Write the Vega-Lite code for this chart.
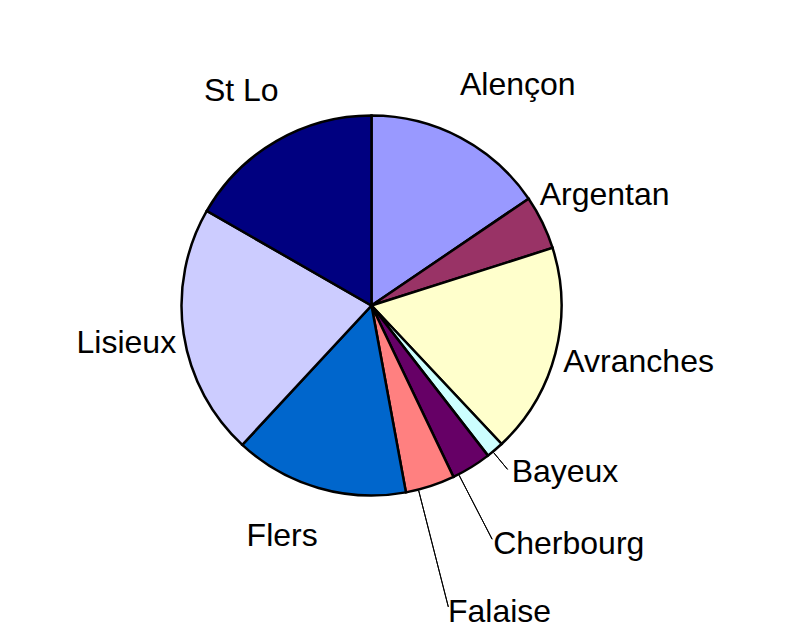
{
  "$schema": "https://vega.github.io/schema/vega-lite/v6.json",
  "width": 743,
  "height": 611,
  "autosize": {"type": "none"},
  "padding": {"left": 0, "top": 0, "right": 65, "bottom": 17},
  "background": "white",
  "config": {"view": {"stroke": null}, "text": {"font": "Liberation Sans", "fontSize": 32, "color": "black"}},
  "data": {
    "values": [
      {"name": "Alençon", "share": 15.5},
      {"name": "Argentan", "share": 4.6},
      {"name": "Avranches", "share": 17.9},
      {"name": "Bayeux", "share": 1.5},
      {"name": "Cherbourg", "share": 3.4},
      {"name": "Falaise", "share": 4.2},
      {"name": "Flers", "share": 14.8},
      {"name": "Lisieux", "share": 21.4},
      {"name": "St Lo", "share": 16.7}
    ]
  },
  "encoding": {
    "theta": {"field": "share", "type": "quantitative", "stack": true}
  },
  "layer": [
    {
      "mark": {"type": "arc", "radius": 190, "stroke": "black", "strokeWidth": 2.5},
      "encoding": {
        "color": {
          "field": "name",
          "type": "nominal",
          "legend": null,
          "scale": {
            "domain": ["Alençon", "Argentan", "Avranches", "Bayeux", "Cherbourg", "Falaise", "Flers", "Lisieux", "St Lo"],
            "range": ["#9999FF", "#993366", "#FFFFCC", "#CCFFFF", "#660066", "#FF8080", "#0066CC", "#CCCCFF", "#000080"]
          }
        }
      }
    },
    {
      "transform": [{"stack": "share", "groupby": [], "sort": [{"field": "name", "order": "ascending"}], "as": ["s0", "s1"]}],
      "mark": {"type": "arc", "innerRadius": 191, "outerRadius": 213, "filled": false, "color": "black", "strokeWidth": 1, "thetaOffset": 0.061087, "theta2Offset": 0.061087},
      "encoding": {
        "theta": {"field": "s0", "type": "quantitative"},
        "theta2": {"field": "s0"},
        "strokeOpacity": {"condition": {"test": "datum.name === 'Bayeux'", "value": 1}, "value": 0}
      }
    },
    {
      "transform": [{"stack": "share", "groupby": [], "sort": [{"field": "name", "order": "ascending"}], "as": ["s0", "s1"]}],
      "mark": {"type": "arc", "innerRadius": 191, "outerRadius": 263, "filled": false, "color": "black", "strokeWidth": 1, "thetaOffset": 0.18326, "theta2Offset": 0.18326},
      "encoding": {
        "theta": {"field": "s0", "type": "quantitative"},
        "theta2": {"field": "s0"},
        "strokeOpacity": {"condition": {"test": "datum.name === 'Cherbourg'", "value": 1}, "value": 0}
      }
    },
    {
      "transform": [{"stack": "share", "groupby": [], "sort": [{"field": "name", "order": "ascending"}], "as": ["s0", "s1"]}],
      "mark": {"type": "arc", "innerRadius": 191, "outerRadius": 311, "filled": false, "color": "black", "strokeWidth": 1, "thetaOffset": 0.196524, "theta2Offset": 0.196524},
      "encoding": {
        "theta": {"field": "s0", "type": "quantitative"},
        "theta2": {"field": "s0"},
        "strokeOpacity": {"condition": {"test": "datum.name === 'Falaise'", "value": 1}, "value": 0}
      }
    },
    {
      "mark": {"type": "text", "radius": 265, "align": "center", "baseline": "middle", "thetaOffset": 0.0977},
      "encoding": {
        "detail": {"field": "name"},
        "text": {"field": "name", "type": "nominal", "condition": {"test": "datum.name !== 'Alençon'", "value": ""}}
      }
    },
    {
      "mark": {"type": "text", "radius": 258, "align": "center", "baseline": "middle", "thetaOffset": 0.01},
      "encoding": {
        "detail": {"field": "name"},
        "text": {"field": "name", "type": "nominal", "condition": {"test": "datum.name !== 'Argentan'", "value": ""}}
      }
    },
    {
      "mark": {"type": "text", "radius": 273, "align": "center", "baseline": "middle", "thetaOffset": -0.0468},
      "encoding": {
        "detail": {"field": "name"},
        "text": {"field": "name", "type": "nominal", "condition": {"test": "datum.name !== 'Avranches'", "value": ""}}
      }
    },
    {
      "mark": {"type": "text", "radius": 247, "align": "center", "baseline": "middle", "thetaOffset": 0.0873},
      "encoding": {
        "detail": {"field": "name"},
        "text": {"field": "name", "type": "nominal", "condition": {"test": "datum.name !== 'Flers'", "value": ""}}
      }
    },
    {
      "mark": {"type": "text", "radius": 248, "align": "center", "baseline": "middle", "thetaOffset": 0},
      "encoding": {
        "detail": {"field": "name"},
        "text": {"field": "name", "type": "nominal", "condition": {"test": "datum.name !== 'Lisieux'", "value": ""}}
      }
    },
    {
      "mark": {"type": "text", "radius": 251, "align": "center", "baseline": "middle", "thetaOffset": -0.021},
      "encoding": {
        "detail": {"field": "name"},
        "text": {"field": "name", "type": "nominal", "condition": {"test": "datum.name !== 'St Lo'", "value": ""}}
      }
    },
    {
      "mark": {"type": "text", "radius": 218, "align": "left", "baseline": "middle", "thetaOffset": 0.0087},
      "encoding": {
        "detail": {"field": "name"},
        "text": {"field": "name", "type": "nominal", "condition": {"test": "datum.name !== 'Bayeux'", "value": ""}}
      }
    },
    {
      "mark": {"type": "text", "radius": 268, "align": "left", "baseline": "middle", "thetaOffset": 0.0817},
      "encoding": {
        "detail": {"field": "name"},
        "text": {"field": "name", "type": "nominal", "condition": {"test": "datum.name !== 'Cherbourg'", "value": ""}}
      }
    },
    {
      "mark": {"type": "text", "radius": 316, "align": "left", "baseline": "middle", "thetaOffset": 0.0698},
      "encoding": {
        "detail": {"field": "name"},
        "text": {"field": "name", "type": "nominal", "condition": {"test": "datum.name !== 'Falaise'", "value": ""}}
      }
    }
  ]
}
